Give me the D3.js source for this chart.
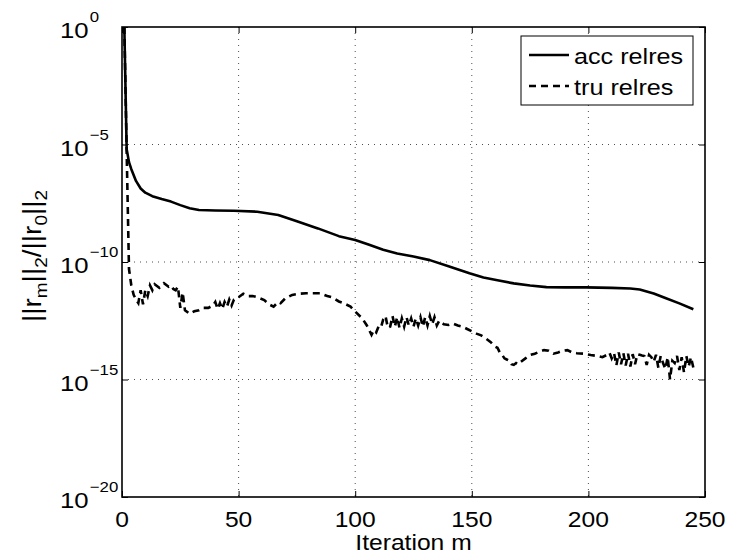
<!DOCTYPE html>
<html><head><meta charset="utf-8">
<script src="https://cdn.jsdelivr.net/npm/d3@7"></script>
<style>body{margin:0;background:#fff}text{font-family:"Liberation Sans",Arial,Helvetica,sans-serif;fill:#000}</style>
</head><body><svg id="c" width="730" height="557"></svg>
<script>
// ---- data ----
const xTicks = [0, 50, 100, 150, 200, 250];
const yTickExps = [0, -5, -10, -15, -20];
const seriesNames = ["acc relres", "tru relres"];
// acc relres: iteration, log10 value
const accIter = [1,2,3,4,6,8,10,13,17,21,25,29,33,40,48,58,67,75,84,93,100,106,112,118,125,132,140,149,155,161,168,175,182,190,199,210,218,222,228,233,239,245];
const accLog  = [0,-5.2,-5.75,-6.05,-6.55,-6.87,-7.05,-7.2,-7.32,-7.43,-7.58,-7.71,-7.79,-7.81,-7.82,-7.86,-8.0,-8.27,-8.57,-8.9,-9.06,-9.27,-9.48,-9.64,-9.77,-9.92,-10.18,-10.48,-10.66,-10.78,-10.91,-11.0,-11.07,-11.08,-11.08,-11.1,-11.13,-11.17,-11.34,-11.53,-11.76,-12.01];
// tru relres: iteration, log10 value
const truIter = [1,2,3,4,5,6,7,8,9,10,11,12,13,14,16,18,20,21,22,23,24,25,26,27,29,31,33,35,37,39,40,41,42,43,44,45,46,47,48,50,52,54,56,58,61,63,65,67,68,70,73,76,79,82,85,88,90,93,95,98,100,103,105,107,108,109,110,111,112,113,114,115,116,117,118,119,120,121,122,123,124,125,126,127,128,129,130,131,132,133,134,135,136,138,140,142,144,146,148,150,152,154,156,158,160,161,162,163,164,165,166,167,168,169,170,171,173,175,177,179,181,183,185,187,189,191,193,195,198,201,204,206,208,209,210,211,212,213,214,215,216,217,218,219,220,221,222,223,224,225,226,227,228,229,230,231,232,233,234,235,236,237,238,239,240,241,242,243,244,245];
const truLog  = [0,-5.3,-10.3,-11.0,-11.4,-11.6,-11.75,-11.2,-11.8,-11.2,-11.45,-11.0,-11.2,-10.95,-11.1,-10.9,-11.05,-11.0,-11.15,-11.2,-11.05,-11.95,-11.3,-12.05,-12.2,-12.1,-12.05,-11.95,-11.95,-11.85,-11.7,-12.0,-11.75,-12.0,-11.7,-11.9,-11.6,-11.85,-11.6,-11.5,-11.35,-11.45,-11.45,-11.5,-11.62,-11.8,-11.9,-11.7,-11.75,-11.55,-11.4,-11.35,-11.33,-11.33,-11.33,-11.45,-11.5,-11.68,-11.75,-11.9,-12.11,-12.4,-12.7,-13.1,-12.9,-13.0,-12.75,-12.8,-12.45,-12.3,-12.8,-12.75,-12.3,-12.75,-12.35,-12.8,-12.4,-12.75,-12.35,-12.7,-12.4,-12.75,-12.4,-12.7,-12.35,-12.75,-12.35,-12.7,-12.3,-12.65,-12.35,-12.7,-12.5,-12.65,-12.68,-12.62,-12.7,-12.75,-12.85,-12.95,-13.05,-13.12,-13.25,-13.4,-13.6,-13.65,-13.85,-13.95,-14.1,-14.15,-14.2,-14.35,-14.38,-14.3,-14.35,-14.25,-14.1,-13.96,-13.9,-13.82,-13.75,-13.78,-13.9,-13.85,-13.78,-13.75,-13.85,-13.88,-13.9,-13.96,-14.0,-14.05,-13.95,-13.85,-14.1,-13.88,-14.4,-13.85,-14.35,-13.88,-14.4,-13.9,-14.45,-13.92,-14.35,-13.92,-13.95,-13.98,-14.0,-14.38,-13.95,-14.05,-14.25,-13.95,-14.5,-14.0,-14.3,-14.55,-14.05,-14.99,-14.2,-14.3,-14.0,-14.6,-14.05,-14.7,-14.0,-14.45,-14.05,-14.5];

// ---- layout ----
const L = 122, R = 705, T = 27, B = 497;
const svg = d3.select("#c");
const x = d3.scaleLinear().domain([0, 250]).range([L, R]);
const y = d3.scaleLog().domain([1e-20, 1]).range([B, T]);
const SX = 1.12;

const acc = accIter.map((m, i) => [m, Math.pow(10, accLog[i])]);
const tru = truIter.map((m, i) => [m, Math.pow(10, truLog[i])]);

// grid
const grid = svg.append("g").attr("stroke", "#222").attr("stroke-width", 0.8).attr("stroke-dasharray", "1,5");
xTicks.slice(1, -1).forEach(t => grid.append("line").attr("x1", x(t)).attr("x2", x(t)).attr("y1", T).attr("y2", B));
yTickExps.slice(1, -1).forEach(e => grid.append("line").attr("x1", L).attr("x2", R).attr("y1", y(Math.pow(10, e))).attr("y2", y(Math.pow(10, e))));

// axes (inward ticks, mirrored)
const yVals = yTickExps.map(e => Math.pow(10, e));
svg.append("g").attr("transform", `translate(0,${B})`).call(d3.axisTop(x).tickValues(xTicks).tickSize(6).tickFormat("")).call(g => g.select(".domain").remove());
svg.append("g").attr("transform", `translate(0,${T})`).call(d3.axisBottom(x).tickValues(xTicks).tickSize(6).tickFormat("")).call(g => g.select(".domain").remove());
svg.append("g").attr("transform", `translate(${L},0)`).call(d3.axisRight(y).tickValues(yVals).tickSize(6).tickFormat("")).call(g => g.select(".domain").remove());
svg.append("g").attr("transform", `translate(${R},0)`).call(d3.axisLeft(y).tickValues(yVals).tickSize(6).tickFormat("")).call(g => g.select(".domain").remove());
svg.selectAll(".tick line").attr("stroke", "#000").attr("stroke-width", 1);

// lines
const line = d3.line().x(d => x(d[0])).y(d => y(d[1]));
svg.append("path").datum(tru).attr("d", line).attr("fill", "none").attr("stroke", "#000").attr("stroke-width", 2.6).attr("stroke-dasharray", "7,5");
svg.append("path").datum(acc).attr("d", line).attr("fill", "none").attr("stroke", "#000").attr("stroke-width", 2.6).attr("stroke-linejoin", "round");

// frame
svg.append("rect").attr("x", L).attr("y", T).attr("width", R - L).attr("height", B - T).attr("fill", "none").attr("stroke", "#000").attr("stroke-width", 1.6);

// x tick labels
xTicks.forEach(t => {
  svg.append("text").attr("transform", `translate(${x(t)},${B + 30}) scale(${SX},1)`).attr("text-anchor", "middle").attr("font-size", 22).text(t);
});
// y tick labels
yTickExps.forEach(e => {
  const g = svg.append("text").attr("transform", `translate(60,${y(Math.pow(10, e)) + 11}) scale(${SX},1)`).attr("font-size", 23);
  g.append("tspan").text("10");
  g.append("tspan").attr("font-size", 15).attr("dy", -16).attr("dx", 1).text(e === 0 ? "0" : "\u2212" + Math.abs(e));
});

// x title
svg.append("text").attr("transform", `translate(${(L + R) / 2},550) scale(${SX},1)`).attr("text-anchor", "middle").attr("font-size", 22).text("Iteration m");

// y title
const yt = svg.append("text").attr("transform", `translate(41,256) rotate(-90) scale(${SX},1)`).attr("text-anchor", "middle").attr("font-size", 25);
const parts = [["||r", 0], ["m", 1], ["||", 0], ["2", 1], ["/||r", 0], ["0", 1], ["||", 0], ["2", 1]];
let shifted = false;
parts.forEach(([s, sub]) => {
  const ts = yt.append("tspan").text(s);
  if (sub) { ts.attr("font-size", 17).attr("dy", shifted ? 0 : 6); shifted = true; }
  else { ts.attr("dy", shifted ? -6 : 0); shifted = false; }
});

// legend
const lg = svg.append("g");
lg.append("rect").attr("x", 521).attr("y", 36).attr("width", 172).attr("height", 69).attr("fill", "#fff").attr("stroke", "#000").attr("stroke-width", 1);
const rows = [[55, null], [86, "7,5"]];
seriesNames.forEach((n, i) => {
  const ry = rows[i][0];
  const l = lg.append("line").attr("x1", 529).attr("x2", 569).attr("y1", ry).attr("y2", ry).attr("stroke", "#000").attr("stroke-width", 2.6);
  if (rows[i][1]) l.attr("stroke-dasharray", rows[i][1]);
  lg.append("text").attr("transform", `translate(574,${ry + 9}) scale(${SX},1)`).attr("font-size", 22.5).text(n);
});
</script></body></html>
